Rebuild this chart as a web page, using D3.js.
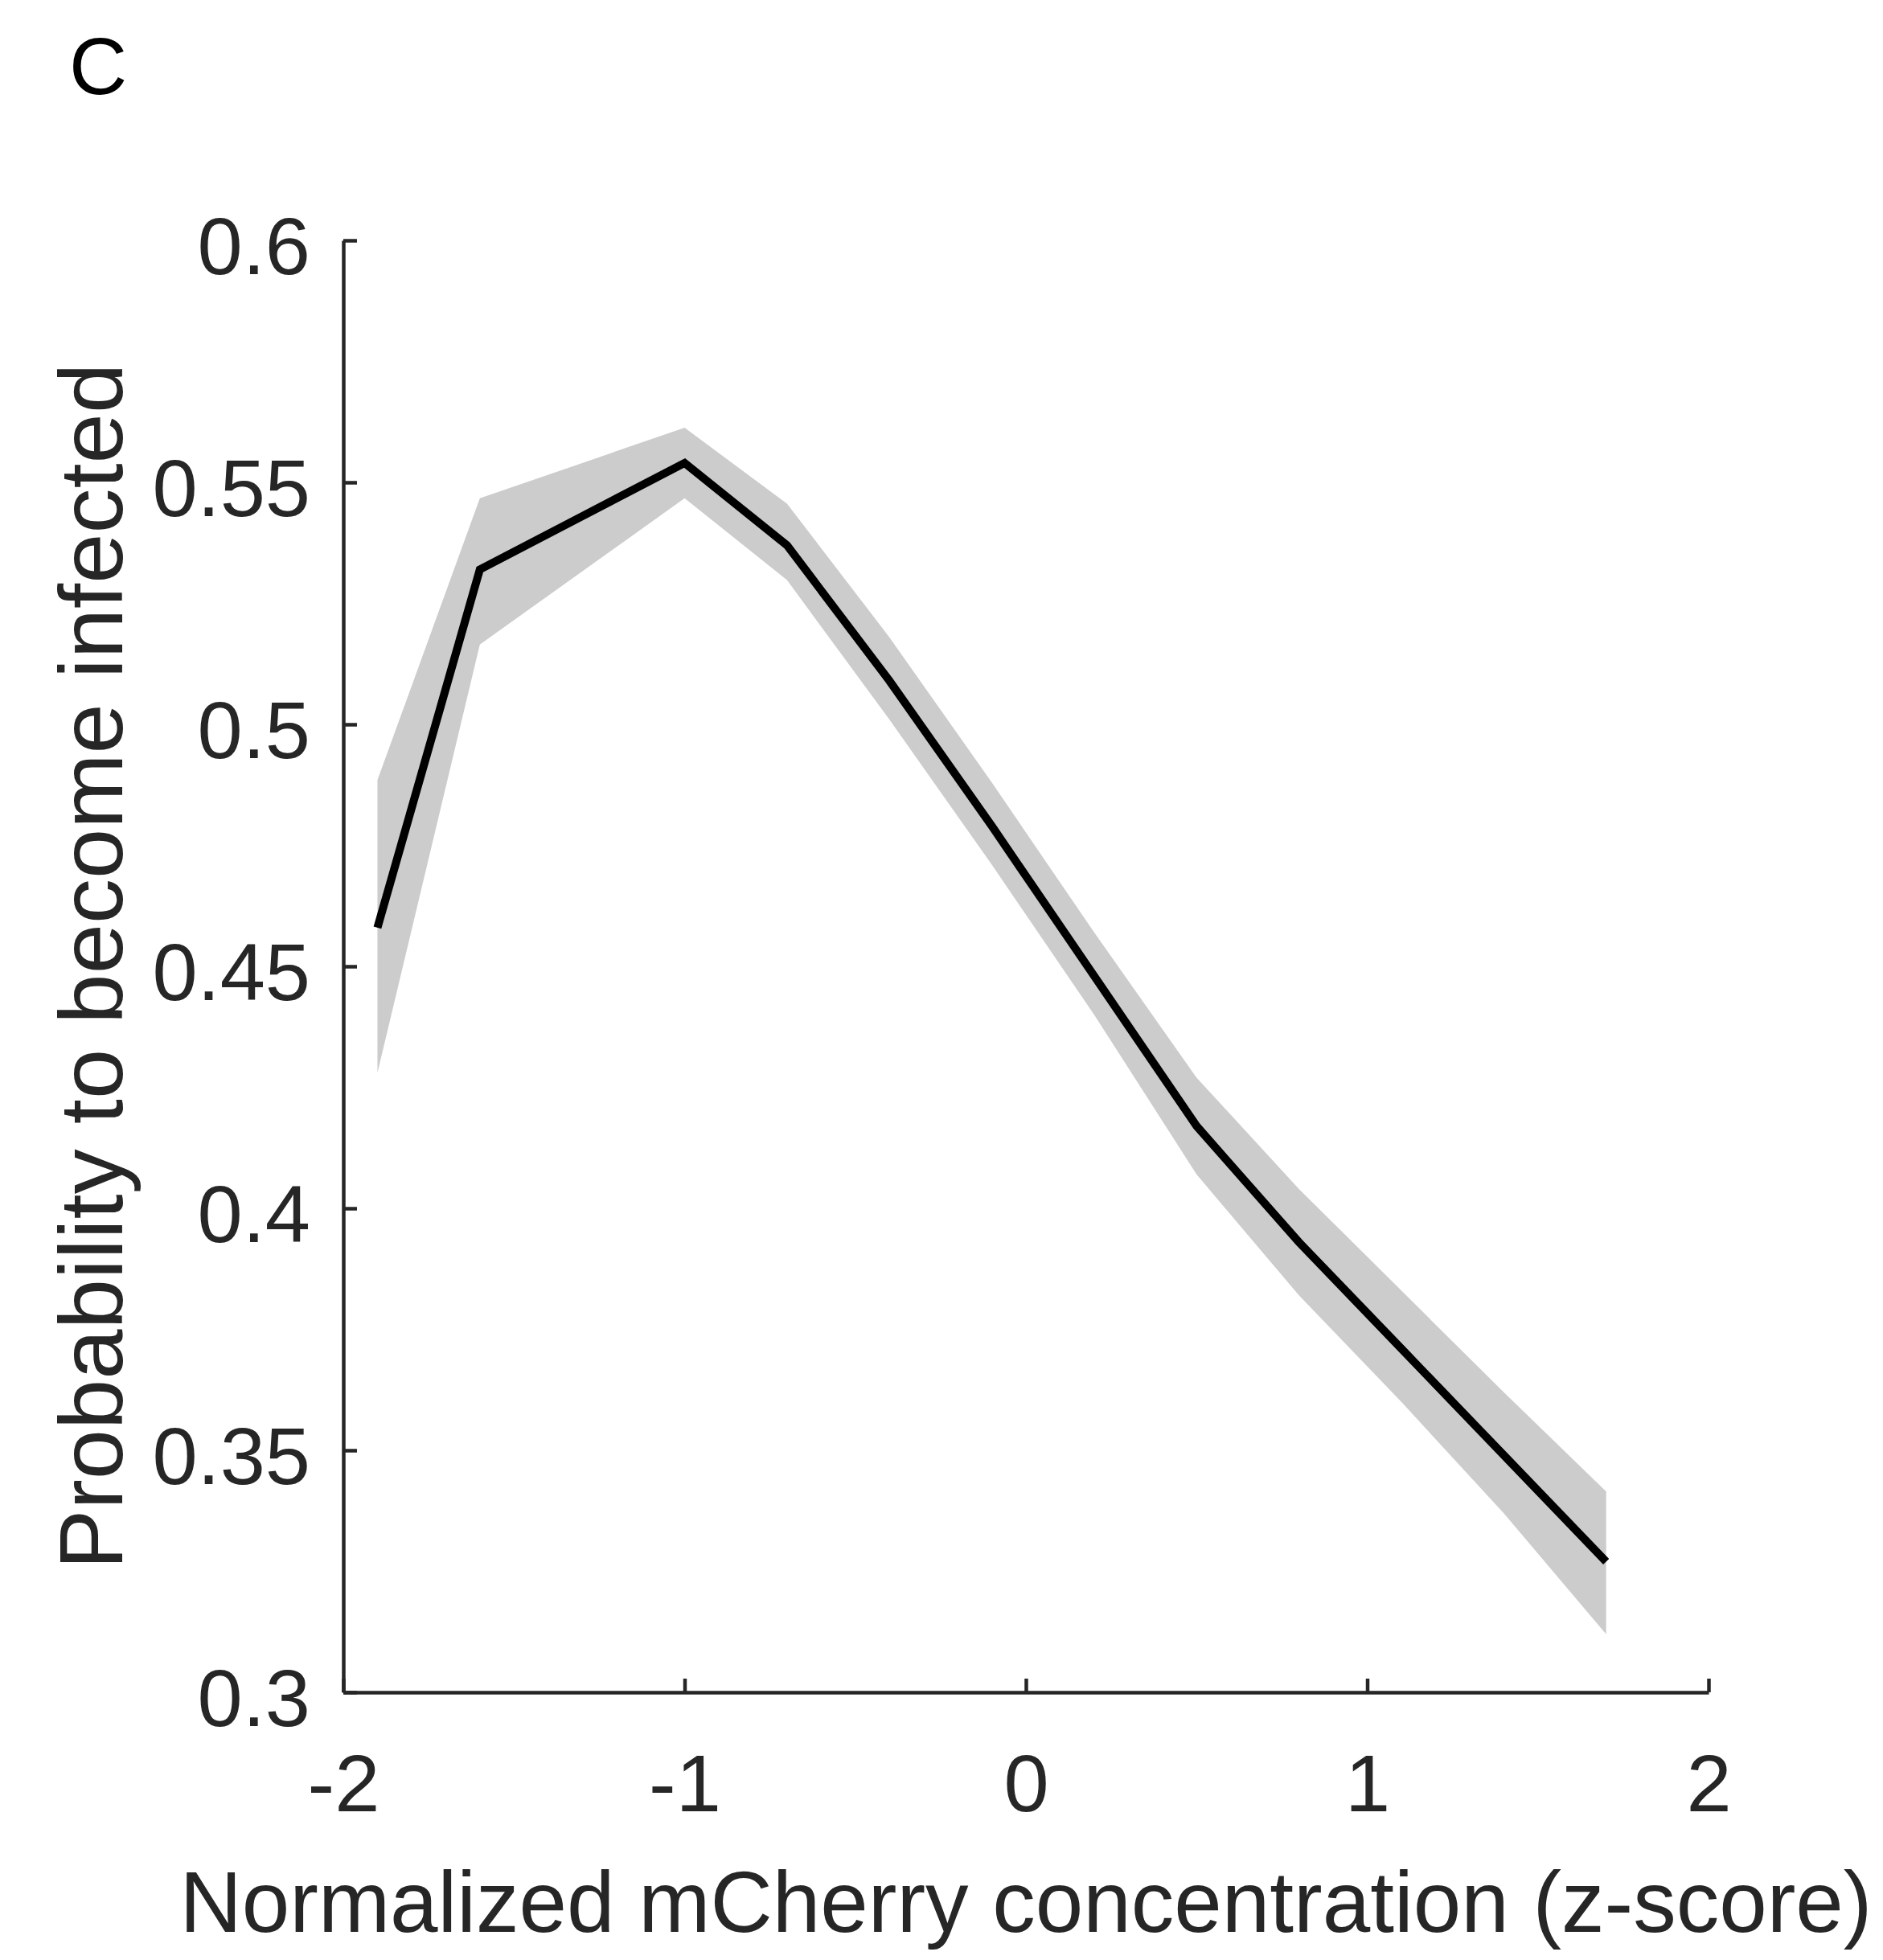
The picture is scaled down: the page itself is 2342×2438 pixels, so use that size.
<!DOCTYPE html>
<html>
<head>
<meta charset="utf-8">
<script src="https://cdn.jsdelivr.net/npm/d3@7"></script>
<style>
  body { margin: 0; background: #fff; }
  text { font-family: "Liberation Sans", Arial, Helvetica, sans-serif; }
</style>
</head>
<body>
<div id="chart"></div>
<script>
// values
var zScores   = [-1.9, -1.6, -1.3, -1.0, -0.7, -0.4, -0.1, 0.2, 0.5, 0.8, 1.1, 1.4, 1.7];
var probMean  = [0.458, 0.532, 0.543, 0.554, 0.537, 0.509, 0.479, 0.448, 0.417, 0.393, 0.371, 0.349, 0.327];
var probUpper = [0.4885, 0.5467, 0.554, 0.5613, 0.5456, 0.518, 0.488, 0.457, 0.427, 0.404, 0.383, 0.362, 0.3415];
var probLower = [0.428, 0.5165, 0.5316, 0.5467, 0.5298, 0.501, 0.471, 0.440, 0.407, 0.382, 0.360, 0.337, 0.312];

var xTicks = [-2, -1, 0, 1, 2];
var yTicks = [0.3, 0.35, 0.4, 0.45, 0.5, 0.55, 0.6];
var yTickLabels = ["0.3", "0.35", "0.4", "0.45", "0.5", "0.55", "0.6"];

// set the dimensions and margins of the graph
var W = 2342, H = 2438;
var margin = {top: 299, right: 217, bottom: 333, left: 427},
    width = W - margin.left - margin.right,
    height = H - margin.top - margin.bottom;

var axisColor = "#262626";

var svg = d3.select("#chart")
  .append("svg")
    .attr("width", W)
    .attr("height", H);

svg.append("rect").attr("width", W).attr("height", H).attr("fill", "#fff");

var g = svg.append("g")
    .attr("transform", "translate(" + margin.left + "," + margin.top + ")");

var x = d3.scaleLinear().domain([-2, 2]).range([0, width]);
var y = d3.scaleLinear().domain([0.3, 0.6]).range([height, 0]);

var data = zScores.map(function(z, i) {
  return {z: z, m: probMean[i], lo: probLower[i], hi: probUpper[i]};
});

// confidence band
g.append("path")
  .datum(data)
  .attr("fill", "#cccccc")
  .attr("d", d3.area()
    .x(function(d) { return x(d.z); })
    .y0(function(d) { return y(d.lo); })
    .y1(function(d) { return y(d.hi); }));

// mean line
g.append("path")
  .datum(data)
  .attr("fill", "none")
  .attr("stroke", "#000")
  .attr("stroke-width", 10)
  .attr("stroke-linejoin", "miter")
  .attr("d", d3.line()
    .x(function(d) { return x(d.z); })
    .y(function(d) { return y(d.m); }));

// Y axis, ticks pointing inwards
var yAxis = g.append("g")
  .call(d3.axisLeft(y)
    .tickValues(yTicks)
    .tickFormat(function(d, i) { return yTickLabels[i]; })
    .tickSizeInner(-17)
    .tickSizeOuter(0)
    .tickPadding(41));

// X axis
var xAxis = g.append("g")
  .attr("transform", "translate(0," + height + ")")
  .call(d3.axisBottom(x)
    .tickValues(xTicks)
    .tickFormat(function(d) { return String(d); })
    .tickSizeInner(-17)
    .tickSizeOuter(0)
    .tickPadding(76));

[xAxis, yAxis].forEach(function(ax) {
  ax.select(".domain").attr("stroke", axisColor).attr("stroke-width", 4.5);
  ax.selectAll(".tick line").attr("stroke", axisColor).attr("stroke-width", 4.5);
  ax.selectAll(".tick text")
    .attr("fill", axisColor)
    .style("font-size", "101px")
    .style("font-family", "'Liberation Sans', Arial, sans-serif");
});
yAxis.selectAll(".tick text").attr("dy", 41);

// axis labels
svg.append("text")
  .attr("x", margin.left + width / 2)
  .attr("y", 2403)
  .attr("text-anchor", "middle")
  .attr("fill", axisColor)
  .style("font-size", "107px")
  .text("Normalized mCherry concentration (z-score)");

svg.append("text")
  .attr("transform", "translate(152," + (margin.top + height / 2) + ") rotate(-90)")
  .attr("text-anchor", "middle")
  .attr("fill", axisColor)
  .style("font-size", "112px")
  .text("Probability to become infected");

// panel letter
svg.append("text")
  .attr("x", 86)
  .attr("y", 117)
  .attr("fill", "#000")
  .style("font-size", "100px")
  .text("C");
</script>
</body>
</html>
